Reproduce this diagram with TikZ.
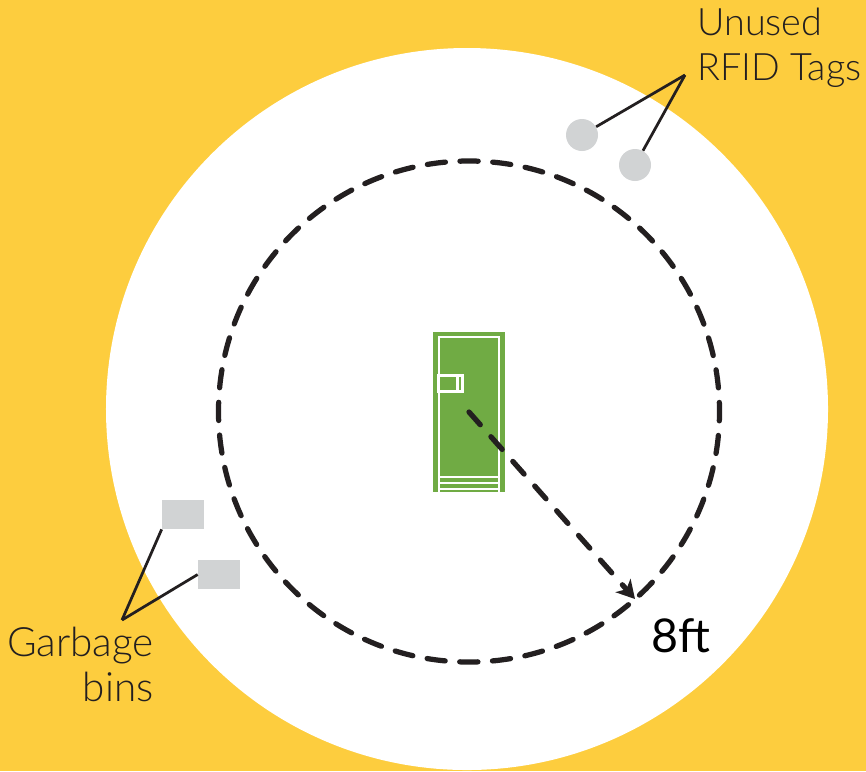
\documentclass[tikz,border=0pt]{standalone}
\usepackage{fontspec}
\setmainfont{Lato Light}
\newfontfamily\rangefont{Lato}
\usetikzlibrary{arrows.meta}
\definecolor{sunyellow}{HTML}{FDCD3E}
\definecolor{doorgreen}{HTML}{70AB44}
\definecolor{taggray}{HTML}{D1D3D4}
\definecolor{inkblack}{HTML}{231F20}
\tikzset{
    ring/.style={circle, inner sep=0pt, outer sep=0pt},
    tagdot/.style={circle, fill=taggray, inner sep=0pt, minimum size=6.4mm},
    binbox/.style={fill=taggray, inner sep=0pt, minimum width=8.4mm, minimum height=5.8mm},
    caption/.style={inner sep=0pt, text=inkblack, font=\fontsize{21.5}{25.5}\selectfont},
    pointer/.style={draw=inkblack, line width=0.55mm},
    dashline/.style={draw=inkblack, line width=1.05mm, line cap=round, dash pattern=on 3.4mm off 3.2mm},
    doorline/.style={draw=white, line width=0.45mm}
}
\begin{document}
\begin{tikzpicture}[x=0.2mm, y=-0.2mm]
    \useasboundingbox (0,0) rectangle (866,771);
    \clip (0,0) rectangle (866,771);
    \fill[sunyellow] (0,0) rectangle (866,771);
    \node[ring, fill=white, minimum size=144.4mm] (zone) at (467,409) {};
    \node[ring, dashline, dash pattern=on 3.64mm off 2.918mm, dash phase=1.82mm, minimum size=100.2mm] (radius) at (469,411.5) {};

    \node[fill=doorgreen, inner sep=0pt, minimum width=14.4mm, minimum height=32mm] (door) at (469,412) {};
    \draw[doorline] (439,492) |- (499,337) -- (499,492);
    \draw[doorline] (439,477) -- (499,477);
    \draw[doorline] (439,483) -- (499,483);
    \draw[doorline] (439,489) -- (499,489);
    \node[draw=white, line width=0.45mm, inner sep=0pt, minimum width=4.8mm, minimum height=3.2mm] (handle) at (450.5,383.5) {};
    \draw[doorline] (457.5,375.5) -- (457.5,391.5);

    \node[tagdot] (tag-a) at (582,135) {};
    \node[tagdot] (tag-b) at (635,165) {};
    \coordinate (tag-apex) at (685,75);
    \draw[pointer] (tag-apex) -- (tag-a);
    \draw[pointer] (tag-apex) -- (tag-b);
    \node[caption, anchor=north west, align=left] (tag-label) at (697,8) {Unused\\RFID Tags};

    \node[binbox] (bin-a) at (183,514.5) {};
    \node[binbox] (bin-b) at (219,574.5) {};
    \coordinate (bin-apex) at (122,620);
    \draw[pointer] (bin-apex) -- (bin-a.south west);
    \draw[pointer] (bin-apex) -- (bin-b.west);
    \node[caption, font=\fontsize{23}{25.5}\selectfont, anchor=north east, align=right] (bin-label) at (154,627) {Garbage\\bins};

    \coordinate (door-center) at (469,412);
    \coordinate (rim) at (635,599);
    \draw[dashline, -{Stealth[length=3.6mm, width=4mm, inset=1mm]}] (door-center) -- (rim);
    \node[inner sep=0pt, text=black, font=\rangefont\fontsize{26.5}{27}\selectfont, anchor=base west] (range-label) at (651,652) {8ft};
\end{tikzpicture}
\end{document}
